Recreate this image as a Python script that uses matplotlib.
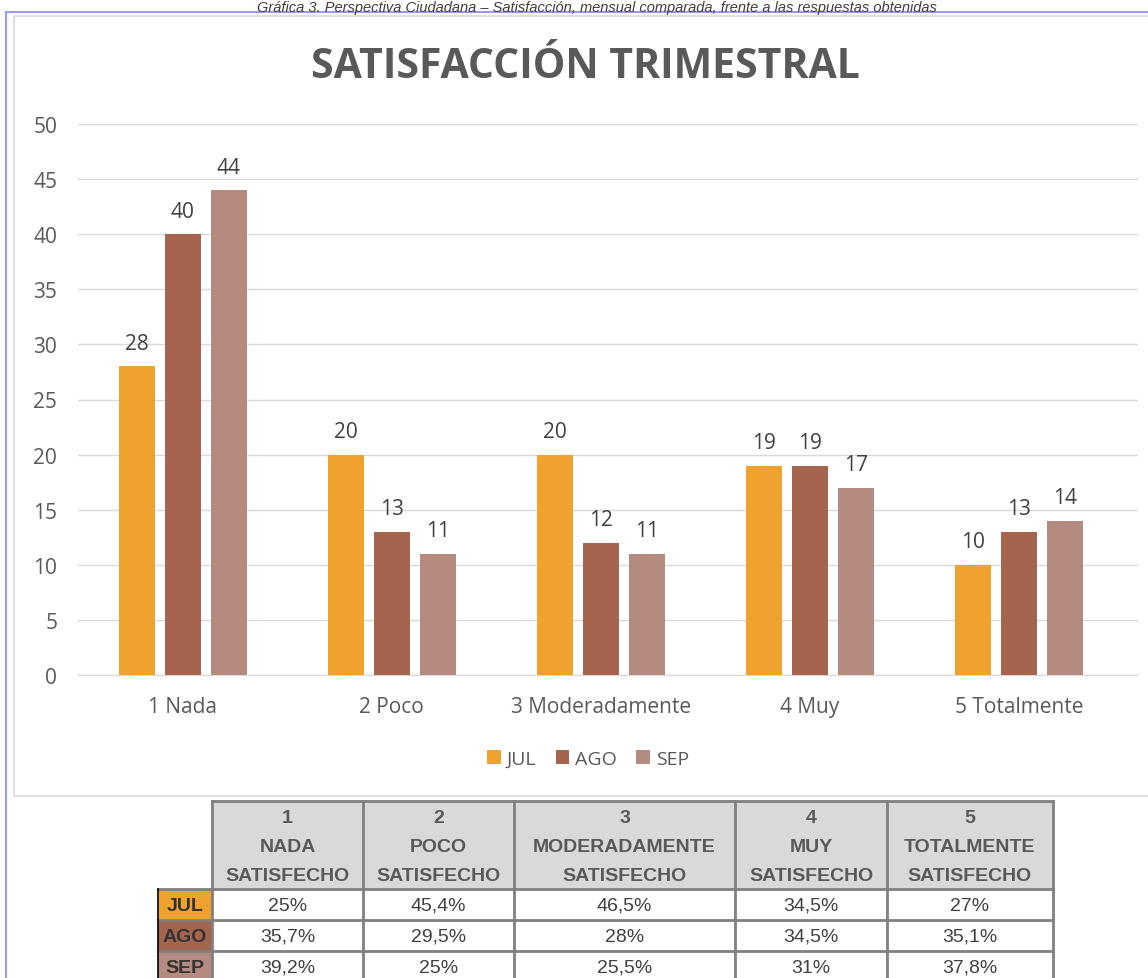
import numpy as np
import matplotlib
matplotlib.use("Agg")
import matplotlib.pyplot as plt
from matplotlib.patches import Rectangle
from matplotlib.lines import Line2D

# data
categories = ["1 Nada", "2 Poco", "3 Moderadamente", "4 Muy", "5 Totalmente"]
months = ["JUL", "AGO", "SEP"]
jul = [28, 20, 20, 19, 10]
ago = [40, 13, 12, 19, 13]
sep = [44, 11, 11, 17, 14]

# table under the chart
table_header = [["1", "NADA", "SATISFECHO"],
                ["2", "POCO", "SATISFECHO"],
                ["3", "MODERADAMENTE", "SATISFECHO"],
                ["4", "MUY", "SATISFECHO"],
                ["5", "TOTALMENTE", "SATISFECHO"]]
pct_jul = ["25%", "45,4%", "46,5%", "34,5%", "27%"]
pct_ago = ["35,7%", "29,5%", "28%", "34,5%", "35,1%"]
pct_sep = ["39,2%", "25%", "25,5%", "31%", "37,8%"]

colors = ["#F0A22E", "#A5644E", "#B58B80"]
W, H = 1148, 979
FONT = ["Open Sans", "DejaVu Sans"]
NARROW = ["Liberation Sans", "DejaVu Sans"]
plt.rcParams["font.family"] = FONT

fig = plt.figure(figsize=(W / 100, H / 100), dpi=100)

# overlay axes in pixel coordinates for frames + table
ov = fig.add_axes([0, 0, 1, 1], zorder=0)
ov.set_xlim(0, W)
ov.set_ylim(H, 0)
ov.axis("off")

# outer blue frame and chart border
ov.add_line(Line2D([6, 6], [13, H], color="#9999FF", lw=1.5))
ov.add_line(Line2D([6, W], [13, 13], color="#9999FF", lw=1.5))
ov.add_patch(Rectangle((14, 17), W, 780, fill=False, ec="#D9D9D9", lw=1.2))

# caption at the very top (cut close to the edge in the original)
fig.text(0.52, 1 - 1 / H, "Gráfica 3. Perspectiva Ciudadana – Satisfacción, mensual comparada, frente a las respuestas obtenidas",
         ha="center", va="top", style="italic", fontsize=10.5, color="#4A3A33", family=NARROW)

# main bar chart
ax = fig.add_axes([78 / W, 303 / H, 1060 / W, 551 / H], zorder=1)
ax.patch.set_alpha(0)
x = np.arange(len(categories))
bw = 0.172
step = 0.22
series = [jul, ago, sep]
for i, (vals, c, m) in enumerate(zip(series, colors, months)):
    bars = ax.bar(x + (i - 1) * step, vals, width=bw, color=c, label=m, zorder=3)
    ax.bar_label(bars, padding=9, fontsize=15, color="#404040")

ax.set_xlim(-0.5, 4.57)
ax.set_ylim(0, 50)
ax.set_yticks(np.arange(0, 51, 5))
ax.set_xticks(x)
ax.set_xticklabels(categories)
ax.yaxis.grid(True, color="#D9D9D9", lw=1)
ax.set_axisbelow(True)
for s in ["top", "right", "left"]:
    ax.spines[s].set_visible(False)
ax.spines["bottom"].set_color("#D9D9D9")
ax.tick_params(axis="both", length=0, labelsize=15, colors="#595959")
ax.tick_params(axis="x", pad=15)
ax.tick_params(axis="y", pad=15)

fig.text(585 / W, 1 - 67 / H, "SATISFACCIÓN TRIMESTRAL", ha="center", va="center",
         fontsize=29.5, fontweight="bold", color="#595959")

fig.legend(loc="center", bbox_to_anchor=(588 / W, 1 - 760 / H), ncol=3, frameon=False,
           handlelength=0.7, handleheight=0.7, handletextpad=0.3, columnspacing=1.0,
           prop={"size": 14}, labelcolor="#595959")

# table
col_edges = [212, 363, 514, 735, 887, 1053]
row_edges = [802, 890, 921, 952, 983]
grid_c = "#808080"
ov.add_patch(Rectangle((212, 802), 1053 - 212, 88, fc="#D9D9D9", ec="none"))
for j, lines in enumerate(table_header):
    cx = (col_edges[j] + col_edges[j + 1]) / 2
    for k, t in enumerate(lines):
        ov.text(cx, 819 + k * 29, t, ha="center", va="center", fontsize=14,
                fontweight="bold", color="#595959", family=NARROW)

rows = [pct_jul, pct_ago, pct_sep]
for r, (vals, c, m) in enumerate(zip(rows, colors, months)):
    y0, y1 = row_edges[r + 1], row_edges[r + 2]
    cy = (y0 + y1) / 2 + 1
    ov.add_patch(Rectangle((158, y0), 212 - 158, y1 - y0, fc=c, ec="none"))
    ov.text(185, cy, m, ha="center", va="center", fontsize=14, fontweight="bold",
            color="#333333", family=NARROW)
    for j, v in enumerate(vals):
        cx = (col_edges[j] + col_edges[j + 1]) / 2
        ov.text(cx, cy, v, ha="center", va="center", fontsize=14, color="#404040", family=NARROW)

for xe in col_edges:
    ov.add_line(Line2D([xe, xe], [802, 983], color=grid_c, lw=2))
for ye in row_edges:
    ov.add_line(Line2D([212, 1053], [ye, ye], color=grid_c, lw=2))
for ye in row_edges[1:]:
    ov.add_line(Line2D([158, 212], [ye, ye], color=grid_c, lw=2))
ov.add_line(Line2D([158, 158], [890, 983], color="#000000", lw=1.2))

fig.savefig("out.png", dpi=100)
